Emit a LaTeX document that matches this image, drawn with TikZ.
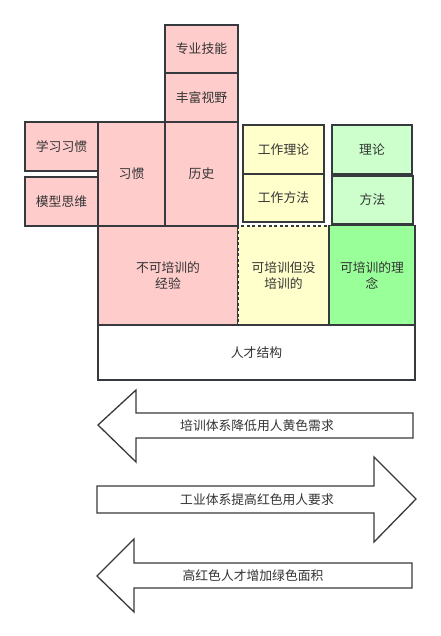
\documentclass[tikz,border=0pt]{standalone}
\usepackage{xcolor}
\usepackage{fontspec}
\setmainfont{Noto Sans CJK SC}
\usepackage{tikz}
\usetikzlibrary{positioning,calc}

\definecolor{pinkfill}{HTML}{FFCCCC}
\definecolor{yellowfill}{HTML}{FFFFCC}
\definecolor{lgreenfill}{HTML}{CCFFCC}
\definecolor{greenfill}{HTML}{99FF99}
\definecolor{edgegray}{HTML}{36393D}
\definecolor{textgray}{HTML}{333333}

\tikzset{
  cell/.style={draw=edgegray, line width=1.6pt, inner sep=0pt, align=center,
    text=textgray, font=\fontsize{12.8}{16}\selectfont},
  bigarrow/.style={draw=edgegray, line width=1.3pt, fill=white, line join=miter},
  arrowtext/.style={text=textgray, font=\fontsize{12.8}{15}\selectfont, inner sep=0pt}
}

\begin{document}
\begin{tikzpicture}[x=1pt,y=-1pt]
    \useasboundingbox (0,0) rectangle (440,636);

    % red column on the left
    \node[cell, fill=pinkfill, minimum width=73, minimum height=48] (zyjn) at (201.5,49) {专业技能};
    \node[cell, fill=pinkfill, minimum width=73, minimum height=49] (fssy) at (201.5,97.5) {丰富视野};
    \node[cell, fill=pinkfill, minimum width=73, minimum height=49] (xxxg) at (61.5,146.5) {学习习惯};
    \node[cell, fill=pinkfill, minimum width=73, minimum height=49] (mxsw) at (61.5,201.5) {模型思维};
    \node[cell, fill=pinkfill, minimum width=67, minimum height=104] (xg) at (131.5,174) {习惯};
    \node[cell, fill=pinkfill, minimum width=73, minimum height=104] (ls) at (201.5,174) {历史};
    \node[cell, fill=pinkfill, minimum width=140, minimum height=99] (bkpx) at (168,275.5) {不可培训的\\经验};

    % yellow column
    \node[cell, fill=yellowfill, minimum width=81, minimum height=49] (gzll) at (283.5,149.5) {工作理论};
    \node[cell, fill=yellowfill, minimum width=81, minimum height=48] (gzff) at (283.5,198) {工作方法};
    \node[cell, fill=yellowfill, dash pattern=on 3pt off 2.5pt, minimum width=91, minimum height=99] (kpmp) at (283.5,275.5) {可培训但没\\培训的};

    % green column
    \node[cell, fill=lgreenfill, minimum width=80, minimum height=49] (ll) at (372,149.5) {理论};
    \node[cell, fill=lgreenfill, minimum width=81, minimum height=48] (ff) at (372.5,200) {方法};
    \node[cell, fill=greenfill, minimum width=86, minimum height=99] (kpln) at (372,275) {可培训的理\\念};

    \node[cell, fill=white, minimum width=317, minimum height=55] (rcjg) at (256.5,352.5) {人才结构};

    % big arrows
    \draw[bigarrow] (98,425) -- (136,390) -- (136,413) -- (413,413) -- (413,438)
        -- (136,438) -- (136,462) -- cycle;
    \node[arrowtext] (jiangdi) at (257,425.5) {培训体系降低用人黄色需求};

    \draw[bigarrow] (97,486) -- (374,486) -- (374,457) -- (416,499) -- (374,542)
        -- (374,513) -- (97,513) -- cycle;
    \node[arrowtext] (tigao) at (257,499.5) {工业体系提高红色用人要求};

    \draw[bigarrow] (97,576) -- (134,539) -- (134,563) -- (412,563) -- (412,588)
        -- (134,588) -- (134,612) -- cycle;
    \node[arrowtext] (zengjia) at (253,576) {高红色人才增加绿色面积};
\end{tikzpicture}
\end{document}
